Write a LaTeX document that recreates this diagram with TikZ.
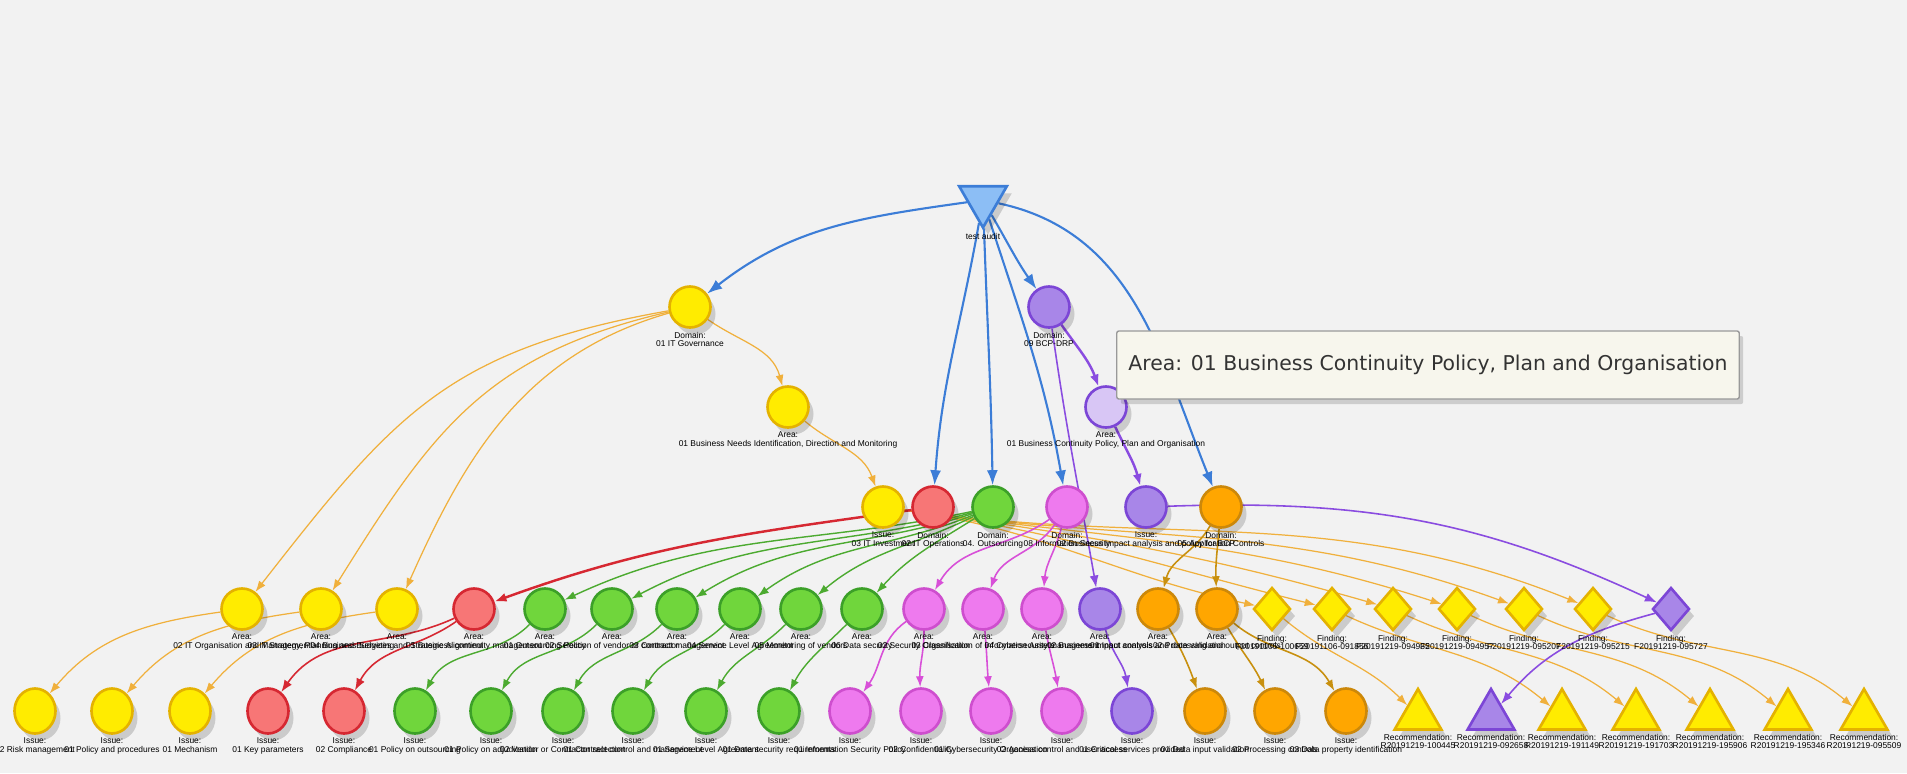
\documentclass[tikz,border=0pt]{standalone}
\usepackage{fontspec}
\usetikzlibrary{arrows.meta,shapes.geometric,shadows}
\newfontfamily\lblfont{Liberation Sans}
\newfontfamily\tipfont{DejaVu Sans}
\definecolor{bgcol}{RGB}{242,242,242}
\definecolor{yfill}{RGB}{255,236,0}
\definecolor{yline}{RGB}{228,178,0}
\definecolor{rfill}{RGB}{247,118,118}
\definecolor{rline}{RGB}{214,40,50}
\definecolor{gfill}{RGB}{112,214,60}
\definecolor{gline}{RGB}{60,160,40}
\definecolor{pfill}{RGB}{238,122,238}
\definecolor{pline}{RGB}{206,78,206}
\definecolor{vfill}{RGB}{168,134,232}
\definecolor{vline}{RGB}{124,70,214}
\definecolor{lvfill}{RGB}{216,198,245}
\definecolor{ofill}{RGB}{255,166,0}
\definecolor{oline}{RGB}{204,136,10}
\definecolor{bfill}{RGB}{140,190,245}
\definecolor{bline}{RGB}{60,125,215}
\definecolor{yedge}{RGB}{240,176,60}
\definecolor{oedge}{RGB}{200,144,15}
\definecolor{gedge}{RGB}{76,170,48}
\definecolor{pedge}{RGB}{216,80,216}
\definecolor{vedge}{RGB}{138,76,224}
\definecolor{tipfill}{RGB}{247,246,237}
\pgfdeclarelayer{bg}
\pgfdeclarelayer{edges}
\pgfsetlayers{bg,edges,main}

\begin{document}
\begin{tikzpicture}[
    lbl/.style={font=\lblfont\fontsize{2.4}{2.4}\selectfont, align=center, inner sep=0pt, text=black},
    every label/.style={lbl}, label distance=0.25mm,
    shd/.style={drop shadow={shadow xshift=0.5mm, shadow yshift=-0.7mm, opacity=0.16, fill=black}},
    nd/.style={circle, minimum size=0.41cm, inner sep=0pt, line width=0.75pt, shd},
    iss/.style={ellipse, minimum width=0.41cm, minimum height=0.45cm},
    ynode/.style={nd, fill=yfill, draw=yline},
    rnode/.style={nd, fill=rfill, draw=rline},
    gnode/.style={nd, fill=gfill, draw=gline},
    pnode/.style={nd, fill=pfill, draw=pline},
    vnode/.style={nd, fill=vfill, draw=vline},
    lvnode/.style={nd, fill=lvfill, draw=vline},
    onode/.style={nd, fill=ofill, draw=oline},
    fnode/.style={diamond, minimum width=0.37cm, minimum height=0.43cm, inner sep=0pt, line width=0.75pt, shd},
    recnode/.style={regular polygon, regular polygon sides=3, minimum size=0.54cm, inner sep=0pt, line width=0.75pt, shd},
    rootnode/.style={regular polygon, regular polygon sides=3, shape border rotate=180, minimum size=0.55cm, inner sep=0pt, line width=0.75pt, fill=bfill, draw=bline, shd},
    be/.style={draw=bline, line width=0.6pt, -{Latex[length=1.5mm,width=1.1mm]}},
    ye/.style={draw=yedge, line width=0.35pt, -{Latex[length=1.1mm,width=0.8mm]}},
    oe/.style={draw=oedge, line width=0.45pt, -{Latex[length=1.1mm,width=0.8mm]}},
    re/.style={draw=rline, line width=0.45pt, -{Latex[length=1.2mm,width=0.9mm]}},
    ge/.style={draw=gedge, line width=0.4pt, -{Latex[length=1.1mm,width=0.8mm]}},
    pe/.style={draw=pedge, line width=0.45pt, -{Latex[length=1.1mm,width=0.8mm]}},
    ve/.style={draw=vedge, line width=0.45pt, -{Latex[length=1.2mm,width=0.9mm]}},
    tip/.style={draw=black!40, fill=tipfill, rounded corners=0.6pt, minimum width=6.22cm, minimum height=0.68cm,
        font=\tipfont\fontsize{5.8}{6}\selectfont, text=black!80,
        drop shadow={shadow xshift=0.4mm, shadow yshift=-0.5mm, opacity=0.15, fill=black}}
]
\useasboundingbox (0,0) rectangle (19.07,-7.73);
\begin{pgfonlayer}{bg}
\fill[bgcol] (0,0) rectangle (19.07,-7.73);
\end{pgfonlayer}

\node[rootnode, label={below:test audit}] (audit) at (9.83,-2.00) {};
\node[ynode, label={below:{Domain:\\01 IT Governance}}] (dITG) at (6.90,-3.07) {};
\node[vnode, label={below:{Domain:\\09 BCP-DRP}}] (dBCP) at (10.49,-3.07) {};
\node[ynode, label={below:{Area:\\01 Business Needs Identification, Direction and Monitoring}}] (aBN) at (7.88,-4.07) {};
\node[lvnode, label={below:{Area:\\01 Business Continuity Policy, Plan and Organisation}}] (aBC) at (11.06,-4.07) {};

\node[ynode, label={below:{Issue:\\03 IT Investment}}] (iIT) at (8.83,-5.07) {};
\node[rnode, label={below:{Domain:\\02 IT Operations}}] (dOPS) at (9.33,-5.07) {};
\node[gnode, label={below:{Domain:\\04. Outsourcing}}] (dOUT) at (9.93,-5.07) {};
\node[pnode, label={below:{Domain:\\08 Information Security}}] (dSEC) at (10.67,-5.07) {};
\node[vnode, label={below:{Issue:\\02 Business impact analysis and policy for BCP}}] (iBIA) at (11.46,-5.07) {};
\node[onode, label={below:{Domain:\\05 Application Controls}}] (dAPP) at (12.21,-5.07) {};

\node[ynode, label={below:{Area:\\02 IT Organisation and Management}}] (aY1) at (2.42,-6.09) {};
\node[ynode, label={below:{Area:\\03 IT Strategy, Planning and Budgeting}}] (aY2) at (3.21,-6.09) {};
\node[ynode, label={below:{Area:\\04 Business Services and Strategic Alignment}}] (aY3) at (3.97,-6.09) {};
\node[rnode, label={below:{Area:\\01 Business continuity management}}] (aR) at (4.74,-6.09) {};
\node[gnode, label={below:{Area:\\01 Outsourcing Policy}}] (aG1) at (5.45,-6.09) {};
\node[gnode, label={below:{Area:\\02 Selection of vendor or contractor}}] (aG2) at (6.12,-6.09) {};
\node[gnode, label={below:{Area:\\03 Contract management}}] (aG3) at (6.77,-6.09) {};
\node[gnode, label={below:{Area:\\04 Service Level Agreement}}] (aG4) at (7.40,-6.09) {};
\node[gnode, label={below:{Area:\\05 Monitoring of vendors}}] (aG5) at (8.01,-6.09) {};
\node[gnode, label={below:{Area:\\06 Data security}}] (aG6) at (8.62,-6.09) {};
\node[pnode, label={below:{Area:\\02 Security Organisation}}] (aS1) at (9.24,-6.09) {};
\node[pnode, label={below:{Area:\\03 Classification of Information Assets}}] (aS2) at (9.83,-6.09) {};
\node[pnode, label={below:{Area:\\04 Cybersecurity management}}] (aS3) at (10.42,-6.09) {};
\node[vnode, label={below:{Area:\\02 Business impact analysis}}] (aP) at (11.00,-6.09) {};
\node[onode, label={below:{Area:\\01 Input controls and data validation}}] (aO1) at (11.58,-6.09) {};
\node[onode, label={below:{Area:\\02 Processing and output controls}}] (aO2) at (12.17,-6.09) {};
\node[fnode, fill=yfill, draw=yline, label={below:{Finding:\\F20191105-100659}}] (fY1) at (12.72,-6.09) {};
\node[fnode, fill=yfill, draw=yline, label={below:{Finding:\\F20191106-091856}}] (fY2) at (13.32,-6.09) {};
\node[fnode, fill=yfill, draw=yline, label={below:{Finding:\\F20191219-094935}}] (fY3) at (13.93,-6.09) {};
\node[fnode, fill=yfill, draw=yline, label={below:{Finding:\\F20191219-094957}}] (fY4) at (14.57,-6.09) {};
\node[fnode, fill=yfill, draw=yline, label={below:{Finding:\\F20191219-095207}}] (fY5) at (15.24,-6.09) {};
\node[fnode, fill=yfill, draw=yline, label={below:{Finding:\\F20191219-095215}}] (fY6) at (15.93,-6.09) {};
\node[fnode, fill=vfill, draw=vline, label={below:{Finding:\\F20191219-095727}}] (fP) at (16.71,-6.09) {};

\node[ynode, iss, label={below:{Issue:\\02 Risk management}}] (iY1) at (0.35,-7.11) {};
\node[ynode, iss, label={below:{Issue:\\01 Policy and procedures}}] (iY2) at (1.12,-7.11) {};
\node[ynode, iss, label={below:{Issue:\\01 Mechanism}}] (iY3) at (1.90,-7.11) {};
\node[rnode, iss, label={below:{Issue:\\01 Key parameters}}] (iR1) at (2.68,-7.11) {};
\node[rnode, iss, label={below:{Issue:\\02 Compliance}}] (iR2) at (3.44,-7.11) {};
\node[gnode, iss, label={below:{Issue:\\01 Policy on outsourcing}}] (iG1) at (4.15,-7.11) {};
\node[gnode, iss, label={below:{Issue:\\01 Policy on adjudication}}] (iG2) at (4.91,-7.11) {};
\node[gnode, iss, label={below:{Issue:\\02 Vendor or Contractor selection}}] (iG3) at (5.63,-7.11) {};
\node[gnode, iss, label={below:{Issue:\\01 Contract control and management}}] (iG4) at (6.33,-7.11) {};
\node[gnode, iss, label={below:{Issue:\\01 Service Level Agreement}}] (iG5) at (7.06,-7.11) {};
\node[gnode, iss, label={below:{Issue:\\01 Data security requirements}}] (iG6) at (7.79,-7.11) {};
\node[pnode, iss, label={below:{Issue:\\01 Information Security Policy}}] (iS1) at (8.50,-7.11) {};
\node[pnode, iss, label={below:{Issue:\\02 Confidentiality}}] (iS2) at (9.21,-7.11) {};
\node[pnode, iss, label={below:{Issue:\\01 Cybersecurity Organisation}}] (iS3) at (9.91,-7.11) {};
\node[pnode, iss, label={below:{Issue:\\02 Access control and user access}}] (iS4) at (10.62,-7.11) {};
\node[vnode, iss, label={below:{Issue:\\01 Critical services provided}}] (iP) at (11.32,-7.11) {};
\node[onode, iss, label={below:{Issue:\\01 Data input validation}}] (iO1) at (12.05,-7.11) {};
\node[onode, iss, label={below:{Issue:\\02 Processing controls}}] (iO2) at (12.75,-7.11) {};
\node[onode, iss, label={below:{Issue:\\03 Data property identification}}] (iO3) at (13.46,-7.11) {};
\node[recnode, fill=yfill, draw=yline, label={below:{Recommendation:\\R20191219-100445}}] (rY1) at (14.18,-7.16) {};
\node[recnode, fill=vfill, draw=vline, label={below:{Recommendation:\\R20191219-092658}}] (rP) at (14.91,-7.16) {};
\node[recnode, fill=yfill, draw=yline, label={below:{Recommendation:\\R20191219-191149}}] (rY2) at (15.62,-7.16) {};
\node[recnode, fill=yfill, draw=yline, label={below:{Recommendation:\\R20191219-191703}}] (rY3) at (16.36,-7.16) {};
\node[recnode, fill=yfill, draw=yline, label={below:{Recommendation:\\R20191219-195906}}] (rY4) at (17.10,-7.16) {};
\node[recnode, fill=yfill, draw=yline, label={below:{Recommendation:\\R20191219-195346}}] (rY5) at (17.88,-7.16) {};
\node[recnode, fill=yfill, draw=yline, label={below:{Recommendation:\\R20191219-095509}}] (rY6) at (18.64,-7.16) {};

\begin{pgfonlayer}{edges}
\draw[be] (audit) to[out=188,in=38] (dITG);
\draw[be] (audit) to[out=-100,in=86] (dOPS);
\draw[be] (audit) to[out=-88,in=91] (dOUT);
\draw[be] (audit) to[out=-60,in=125] (dBCP);
\draw[be] (audit) to[out=-72,in=100] (dSEC);
\draw[be] (audit) to[out=-12,in=112] (dAPP);

\draw[ye] (dITG) to[out=-35,in=105] (aBN);
\draw[ye] (dITG) to[out=190,in=52,looseness=1.15] (aY1);
\draw[ye] (dITG) to[out=193,in=58,looseness=1.1] (aY2);
\draw[ye] (dITG) to[out=196,in=66] (aY3);
\draw[ye] (aBN) to[out=-40,in=110] (iIT);
\draw[ye] (aY1) to[out=188,in=50] (iY1);
\draw[ye] (aY2) to[out=188,in=50] (iY2);
\draw[ye] (aY3) to[out=188,in=50] (iY3);
\draw[ye] (iIT) to[out=-8,in=168] (fY1);
\draw[ye] (iIT) to[out=-8,in=166] (fY2);
\draw[ye] (iIT) to[out=-8,in=164] (fY3);
\draw[ye] (iIT) to[out=-8,in=162] (fY4);
\draw[ye] (iIT) to[out=-8,in=160] (fY5);
\draw[ye] (iIT) to[out=-8,in=158] (fY6);
\draw[ye] (fY1) to[out=-40,in=135] (rY1);
\draw[ye] (fY2) to[out=-25,in=140] (rY2);
\draw[ye] (fY3) to[out=-25,in=140] (rY3);
\draw[ye] (fY4) to[out=-25,in=140] (rY4);
\draw[ye] (fY5) to[out=-25,in=140] (rY5);
\draw[ye] (fY6) to[out=-25,in=140] (rY6);

\draw[re, line width=0.7pt] (dOPS) to[out=188,in=20] (aR);
\draw[re] (aR) to[out=205,in=55] (iR1);
\draw[re] (aR) to[out=215,in=62] (iR2);

\draw[ge] (dOUT) to[out=192,in=25] (aG1);
\draw[ge] (dOUT) to[out=195,in=28] (aG2);
\draw[ge] (dOUT) to[out=198,in=32] (aG3);
\draw[ge] (dOUT) to[out=202,in=36] (aG4);
\draw[ge] (dOUT) to[out=206,in=40] (aG5);
\draw[ge] (dOUT) to[out=212,in=48] (aG6);
\draw[ge] (aG1) to[out=225,in=62] (iG1);
\draw[ge] (aG2) to[out=225,in=62] (iG2);
\draw[ge] (aG3) to[out=225,in=62] (iG3);
\draw[ge] (aG4) to[out=225,in=62] (iG4);
\draw[ge] (aG5) to[out=225,in=62] (iG5);
\draw[ge] (aG6) to[out=225,in=62] (iG6);

\draw[pe] (dSEC) to[out=215,in=60] (aS1);
\draw[pe] (dSEC) to[out=235,in=70] (aS2);
\draw[pe] (dSEC) to[out=255,in=85] (aS3);
\draw[pe] (aS1) to[out=215,in=55] (iS1);
\draw[pe] (aS1) to[out=-90,in=92] (iS2);
\draw[pe] (aS2) to[out=-85,in=95] (iS3);
\draw[pe] (aS3) to[out=-80,in=100] (iS4);

\draw[ve, line width=0.7pt] (dBCP) to[out=-55,in=110] (aBC);
\draw[ve, line width=0.7pt] (aBC) to[out=-65,in=105] (iBIA);
\draw[ve] (dBCP) to[out=-82,in=100] (aP);
\draw[ve] (aP) to[out=-75,in=100] (iP);
\draw[ve] (iBIA) to[out=2,in=155] (fP);
\draw[ve] (fP) to[out=195,in=50] (rP);

\draw[oe] (dAPP) to[out=240,in=75] (aO1);
\draw[oe] (dAPP) to[out=-95,in=92] (aO2);
\draw[oe] (aO1) to[out=-60,in=110] (iO1);
\draw[oe] (aO2) to[out=-60,in=115] (iO2);
\draw[oe] (aO2) to[out=-40,in=120] (iO3);
\end{pgfonlayer}

\node[tip] (tipbox) at (14.28,-3.65) {Area: 01 Business Continuity Policy, Plan and Organisation};
\end{tikzpicture}
\end{document}
